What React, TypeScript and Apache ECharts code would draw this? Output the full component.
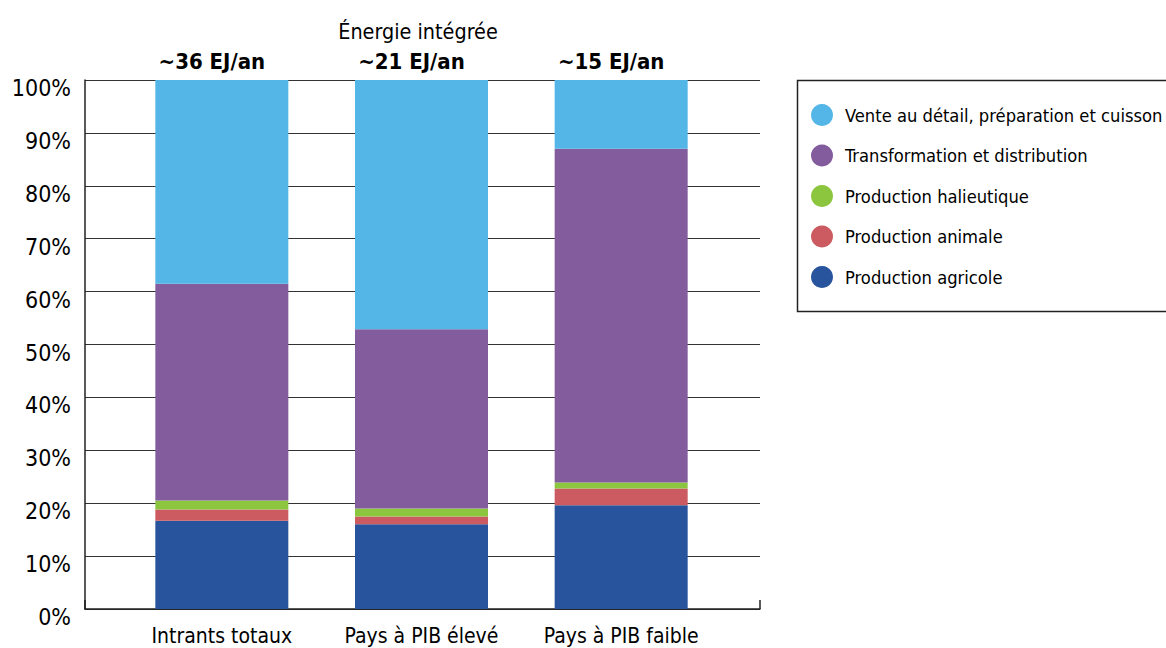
import React, { useEffect, useRef } from "react";
import * as echarts from "echarts";

// Share of embedded energy by stage of the food chain (%)
const categories = ["Intrants totaux", "Pays à PIB élevé", "Pays à PIB faible"];
const totals = ["~36 EJ/an", "~21 EJ/an", "~15 EJ/an"];

const seriesNames = [
  "Production agricole",
  "Production animale",
  "Production halieutique",
  "Transformation et distribution",
  "Vente au détail, préparation et cuisson",
];
const agricole = [16.7, 16.0, 19.6];
const animale = [2.1, 1.5, 3.2];
const halieutique = [1.7, 1.5, 1.1];
const transformation = [41.0, 33.9, 63.1];
const vente = [38.5, 47.1, 13.0];

const seriesColors = ["#27549D", "#CC5A61", "#8CC63F", "#825C9C", "#54B6E7"];
const yTicks = [0, 10, 20, 30, 40, 50, 60, 70, 80, 90, 100];

const FONT = "'DejaVu Sans Condensed', 'Liberation Sans', sans-serif";

export default function App() {
  const ref = useRef<HTMLDivElement>(null);

  useEffect(() => {
    if (!ref.current) return;
    const chart = echarts.init(ref.current, null, { renderer: "svg" });
    const values = [agricole, animale, halieutique, transformation, vente];

    const series: any[] = seriesNames.map((name, i) => ({
      name,
      type: "bar",
      stack: "total",
      xAxisIndex: 1,
      yAxisIndex: 1,
      barWidth: 133,
      itemStyle: { color: seriesColors[i] },
      data: values[i],
      label:
        i === seriesNames.length - 1
          ? {
              show: true,
              position: "top",
              distance: 8,
              offset: [-10, 0],
              formatter: (p: any) => totals[p.dataIndex],
              fontFamily: FONT,
              fontWeight: "bold",
              fontSize: 22,
              color: "#000",
            }
          : { show: false },
    }));

    chart.setOption({
      animation: false,
      backgroundColor: "#fff",
      textStyle: { fontFamily: FONT },
      grid: [
        { left: 85, right: 406, top: 80, bottom: 39 },
        { left: 122, right: 445, top: 80, bottom: 39 },
      ],
      xAxis: [
        {
          type: "value",
          gridIndex: 0,
          min: 0,
          max: 1,
          interval: 1,
          axisLine: { show: true, lineStyle: { color: "#222", width: 1.5 } },
          axisTick: { show: true, inside: true, length: 9, lineStyle: { color: "#222", width: 1.5 } },
          axisLabel: { show: false },
          splitLine: { show: false },
        },
        {
          type: "category",
          gridIndex: 1,
          data: categories,
          axisLine: { show: false },
          axisTick: { show: false },
          axisLabel: {
            interval: 0,
            margin: 16,
            fontFamily: FONT,
            fontSize: 21,
            color: "#000",
          },
        },
      ],
      yAxis: [
        {
          type: "value",
          gridIndex: 0,
          min: 0,
          max: 100,
          interval: 10,
          axisLine: { show: true, lineStyle: { color: "#222", width: 1.5 } },
          axisTick: { show: false },
          splitLine: { show: true, lineStyle: { color: "#333", width: 1.2 } },
          axisLabel: {
            margin: 14,
            fontFamily: FONT,
            fontSize: 23,
            color: "#000",
            verticalAlign: "top",
            lineHeight: 16,
            formatter: (v: number) => (yTicks.includes(v) ? `${v}%` : ""),
          },
        },
        {
          type: "value",
          gridIndex: 1,
          min: 0,
          max: 100,
          show: false,
        },
      ],
      legend: {
        orient: "vertical",
        left: 811,
        top: 104,
        padding: 0,
        icon: "circle",
        itemWidth: 22,
        itemHeight: 22,
        itemGap: 18.5,
        data: [...seriesNames].reverse(),
        textStyle: {
          fontFamily: FONT,
          fontSize: 18.2,
          color: "#000",
          padding: [0, 0, 0, 7],
        },
      },
      graphic: [
        {
          type: "rect",
          shape: { x: 797.5, y: 80.5, width: 420, height: 231 },
          style: { fill: "none", stroke: "#222", lineWidth: 1.5 },
        },
        {
          type: "text",
          x: 418,
          y: 31,
          style: {
            text: "Énergie intégrée",
            fontFamily: FONT,
            fontSize: 21.4,
            fill: "#000",
            textAlign: "center",
            textVerticalAlign: "middle",
          },
        },
      ],
      series,
    });

    return () => chart.dispose();
  }, []);

  return (
    <div
      ref={ref}
      style={{ position: "fixed", left: 0, top: 0, width: 1166, height: 648 }}
    />
  );
}
